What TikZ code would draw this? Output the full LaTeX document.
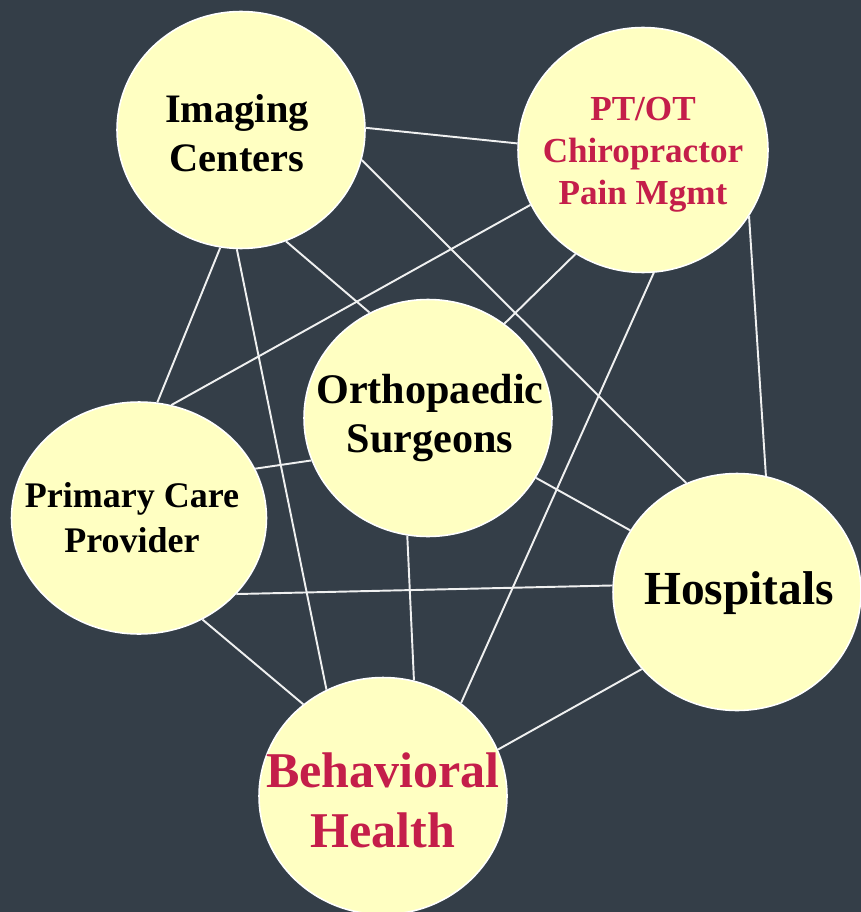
\documentclass[tikz,border=0pt]{standalone}
\usepackage{fontspec}
\setmainfont{Liberation Serif}
\usepackage{tikz}
\usetikzlibrary{shapes.geometric}
\usepackage{xcolor}
\definecolor{slate}{RGB}{52,62,72}
\definecolor{cream}{RGB}{255,255,194}
\definecolor{crimson}{RGB}{196,30,74}

\begin{document}
\begin{tikzpicture}[
  x=0.02cm, y=-0.02cm,
  hub/.style={ellipse, draw=white, line width=0.9pt, fill=cream, inner sep=0pt,
              minimum width=4.96cm, minimum height=4.74cm},
  caption/.style={align=center, inner sep=0pt},
  link/.style={draw=white!92!slate, line width=1.1pt}
]
  \fill[slate] (0,0) rectangle (861,912);
  \useasboundingbox (0,0) rectangle (861,912);

  \node[hub] (imaging) at (241,130) {};
  \node[hub, minimum width=5cm, minimum height=4.9cm] (ptot) at (643,150) {};
  \node[hub] (ortho) at (428,418) {};
  \node[hub, minimum width=5.1cm, minimum height=4.64cm] (primary) at (139,518) {};
  \node[hub] (hospitals) at (737,592) {};
  \node[hub] (behavioral) at (383,796) {};

  \node[caption, font=\bfseries\fontsize{23}{28}\selectfont] (imaging-t) at (237,133) {Imaging\\Centers};
  \node[caption, text=crimson, font=\bfseries\fontsize{20}{24}\selectfont] (ptot-t) at (643,155) {PT/OT\\Chiropractor\\Pain Mgmt};
  \node[caption, font=\bfseries\fontsize{24}{28}\selectfont] (ortho-t) at (430,418) {Orthopaedic\\Surgeons};
  \node[caption, font=\bfseries\fontsize{20.5}{25.5}\selectfont] (primary-t) at (132,518) {Primary Care\\Provider};
  \node[caption, font=\bfseries\fontsize{27}{32}\selectfont] (hospitals-t) at (739,593) {Hospitals};
  \node[caption, text=crimson, font=\bfseries\fontsize{28.5}{34}\selectfont] (behavioral-t) at (383,800) {Behavioral\\Health};

  % every pair is linked
  \draw[link] (imaging.1) -- (ptot.177);
  \draw[link] (imaging.-14) -- (hospitals.115);
  \draw[link] (imaging.-68) -- (ortho.119);
  \draw[link] (imaging.-100) -- (primary.81);
  \draw[link] (imaging.-92) -- (behavioral.118);
  \draw[link] (ptot.-154) -- (primary.74);
  \draw[link] (ptot.-123) -- (ortho.51);
  \draw[link] (ptot.-85) -- (behavioral.50);
  \draw[link] (ptot.-32) -- (hospitals.76);
  \draw[link] (ortho.-160) -- (primary.23);
  \draw[link] (ortho.-29) -- (hospitals.150);
  \draw[link] (ortho.-100) -- (behavioral.75);
  \draw[link] (primary.-38) -- (hospitals.177);
  \draw[link] (primary.-58) -- (behavioral.131);
  \draw[link] (hospitals.-141) -- (behavioral.22);
\end{tikzpicture}
\end{document}
